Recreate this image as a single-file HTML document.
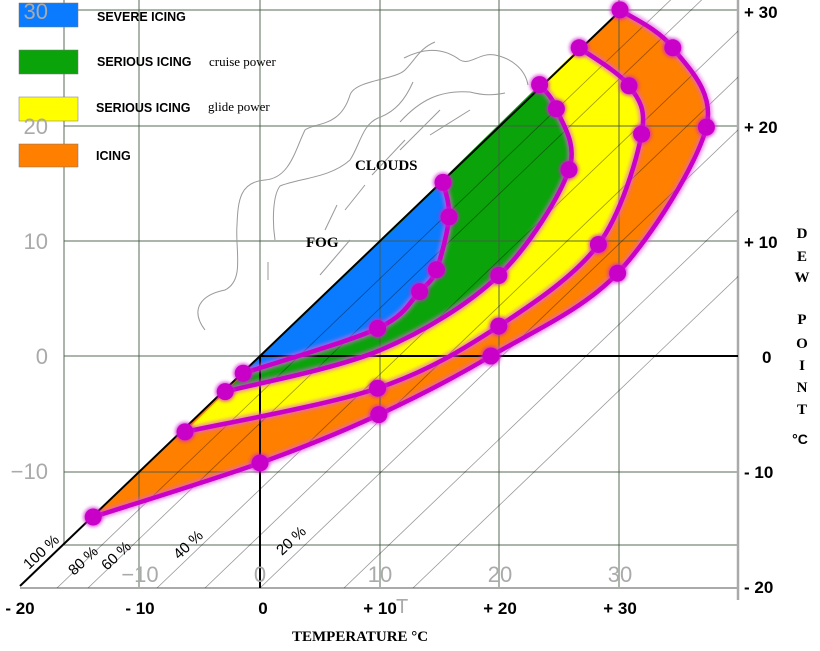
<!DOCTYPE html>
<html><head><meta charset="utf-8"><style>
html,body{margin:0;padding:0;background:#fff;}
svg{display:block;}
.sans{font-family:"Liberation Sans",sans-serif;}
.serif{font-family:"Liberation Serif",serif;}
</style></head><body>
<svg id="chart" width="820" height="651" viewBox="0 0 820 651" xmlns="http://www.w3.org/2000/svg">
<defs>
<clipPath id="plotclip"><rect x="20" y="0" width="718" height="588"/></clipPath>
<filter id="glow" x="-50%" y="-50%" width="200%" height="200%"><feGaussianBlur stdDeviation="1.5"/></filter>
</defs>
<g id="fills"></g>
<g id="grid"></g>
<g id="rh" clip-path="url(#plotclip)"></g>
<g id="clouds" fill="none" stroke="#999" stroke-width="1">
<path d="M205,330 C190,310 200,295 225,290 C245,280 235,250 237,225 C238,200 240,182 265,180 C290,178 295,150 305,130 C315,122 340,128 350,95 C355,80 395,80 405,70 C415,60 420,48 435,42"/>
<path d="M275,240 C272,220 273,195 280,186 C300,178 330,178 350,160 C360,145 362,125 378,118 C395,112 405,100 413,82"/>
<path d="M404,58 C420,50 440,45 460,60 C470,66 480,52 495,55 C510,58 525,68 528,85"/>
<path d="M400,122 C420,100 440,90 470,92 C485,96 495,95 505,93"/>
<path d="M268,262 L268,280"/>
<path d="M320,275 L350,240"/><path d="M337,205 L325,230"/><path d="M365,185 L345,210"/><path d="M405,140 L372,175"/>
<path d="M440,110 L400,150"/><path d="M470,110 L430,135"/>
</g>
<g id="bounds"></g>
<line id="satline" stroke="#000" stroke-width="2"/>
<g id="marks"></g>

<g>
<g><rect x="19" y="3" width="59" height="24" fill="#0a7bff" stroke="#777" stroke-width="0.5"/><text x="97" y="21" class="sans" font-size="12.5" font-weight="bold">SEVERE ICING</text></g>
<g><rect x="19" y="50" width="59" height="24" fill="#0aa40a" stroke="#777" stroke-width="0.5"/><text x="97" y="66" class="sans" font-size="12.5" font-weight="bold">SERIOUS ICING</text><text x="209" y="66" class="serif" font-size="13">cruise power</text></g>
<g><rect x="19" y="97" width="59" height="24" fill="#ffff00" stroke="#777" stroke-width="0.5"/><text x="96" y="112" class="sans" font-size="12.5" font-weight="bold">SERIOUS ICING</text><text x="208" y="111" class="serif" font-size="13">glide power</text></g>
<g><rect x="19" y="144" width="59" height="23" fill="#ff7f00" stroke="#777" stroke-width="0.5"/><text x="96" y="160" class="sans" font-size="12.5" font-weight="bold">ICING</text></g>
</g>

<text x="355" y="170" class="serif" font-size="15" font-weight="bold">CLOUDS</text>
<text x="306" y="247" class="serif" font-size="15" font-weight="bold">FOG</text>

<g id="rhlabels" class="sans" font-size="15" fill="#000"></g>
<g id="ticks"></g>
<text x="292" y="641" class="serif" font-size="15" font-weight="bold">TEMPERATURE  °C</text>
<g class="serif" font-size="15" font-weight="bold" text-anchor="middle">
<text x="802" y="238">D</text><text x="802" y="261">E</text><text x="802" y="282">W</text>
<text x="802" y="324">P</text><text x="802" y="348">O</text><text x="802" y="370">I</text><text x="802" y="392">N</text><text x="802" y="414">T</text>
<text x="800" y="444" class="sans" font-size="14">°C</text>
</g>
</svg>
<script>
// ---- data ----
const outerT=[-13.9,0,9.9,19.25,29.8,37.2,34.4,30];
const outerD=[-14,-9.3,-5.1,0,7.2,19.9,26.8,30.1];
const yellowT=[-6.25,9.8,19.9,28.2,31.8,30.75,26.6];
const yellowD=[-6.6,-2.8,2.6,9.7,19.3,23.5,26.8];
const greenT=[-2.9,10,19.9,25.75,24.7,23.3];
const greenD=[-3.1,0.5,7,16.2,21.5,23.6];
const greenMarked=[1,0,1,1,1,1];
const blueT=[-1.4,9.8,13.3,14.7,15.75,15.25];
const blueD=[-1.5,2.4,5.6,7.5,12.1,15.1];
const rhLabels=["100 %","80 %","60 %","40 %","20 %"];
const bottomTicks=[-20,-10,0,10,20,30];
const grayXTicks=[-10,0,10,20,30];
const leftTicks=[30,20,10,0,-10];
const rightTicks=[30,20,10,0,-10,-20];

// ---- axes ----
const xS=t=>260+12*t;
const yS=d=>356-11.5*d;
const NS="http://www.w3.org/2000/svg";
function mk(tag,attrs,parent){const e=document.createElementNS(NS,tag);for(const k in attrs)e.setAttribute(k,attrs[k]);parent.appendChild(e);return e;}

function spline(T,D){
  const p=T.map((t,i)=>[xS(t),yS(D[i])]);
  let d="M"+p[0][0]+","+p[0][1];
  for(let i=0;i<p.length-1;i++){
    const p0=p[i-1]||p[i],p1=p[i],p2=p[i+1],p3=p[i+2]||p2;
    const k=0.16;
    d+=" C"+(p1[0]+(p2[0]-p0[0])*k)+","+(p1[1]+(p2[1]-p0[1])*k)+" "+(p2[0]-(p3[0]-p1[0])*k)+","+(p2[1]-(p3[1]-p1[1])*k)+" "+p2[0]+","+p2[1];
  }
  return d;
}
const fills=document.getElementById('fills');
const bounds=document.getElementById('bounds');
const marks=document.getElementById('marks');
const regions=[[outerT,outerD,"#ff7f00","orange"],[yellowT,yellowD,"#ffff00","yellow"],[greenT,greenD,"#0aa40a","green"],[blueT,blueD,"#0a7bff","blue"]];
regions.forEach(r=>{
  const f=mk('path',{d:spline(r[0],r[1])+" Z",fill:r[2]},fills);
  
  
});
regions.forEach(r=>{
  const d=spline(r[0],r[1]);
  const g=mk('path',{d:d,fill:"none",stroke:"#e060e0","stroke-width":9,opacity:0.6,filter:"url(#glow)"},bounds);
  
  
  const l=mk('path',{d:d,fill:"none",stroke:"#c800c8","stroke-width":4.5},bounds);
  
  
  r[0].forEach((t,i)=>{
    if(r[3]==="green" && !greenMarked[i]) return;
    const c=mk('circle',{cx:xS(t),cy:yS(r[1][i]),r:10,fill:"#d020d0",opacity:0.7,filter:"url(#glow)"},marks);
    
    
    const c2=mk('circle',{cx:xS(t),cy:yS(r[1][i]),r:8.5,fill:"#c800c8"},marks);
    
    
  });
});

// grid
const grid=document.getElementById('grid');
[64,139,260,380,499,619].forEach(x=>{
  const l=mk('line',{x1:x,y1:0,x2:x,y2:x===64?545:588,stroke:"rgba(70,90,70,0.45)","stroke-width":2},grid);
  
  
});
[10,126,241,356,472,545].forEach(y=>{
  const l=mk('line',{x1:64,y1:y,x2:738,y2:y,stroke:"rgba(70,90,70,0.45)","stroke-width":2},grid);
  
  
});
let ln=mk('line',{x1:20,y1:588,x2:738,y2:588,stroke:"#aaa","stroke-width":2},grid);

ln=mk('line',{x1:738,y1:0,x2:738,y2:600,stroke:"#aaa","stroke-width":2.5},grid);

ln=mk('line',{x1:260,y1:356,x2:738,y2:356,stroke:"#000","stroke-width":2},grid);

ln=mk('line',{x1:260,y1:356,x2:260,y2:588,stroke:"#000","stroke-width":2},grid);


// saturation & RH lines
const sat=document.getElementById('satline');
sat.setAttribute('x1',xS(-20));sat.setAttribute('y1',yS(-20));sat.setAttribute('x2',xS(30));sat.setAttribute('y2',yS(30));
const rh=document.getElementById('rh');
const slope=11.5/12;
[57,88,157,205,260,344,413].forEach(x0=>{
  const l=mk('line',{x1:x0,y1:588,x2:x0+620,y2:588-620*slope,stroke:"rgba(0,0,0,0.4)","stroke-width":0.8},rh);
  
  
});
const rhl=document.getElementById('rhlabels');
[[29,570],[74,576],[107,571],[179,560],[282,556]].forEach((p,i)=>{
  const t=mk('text',{x:p[0],y:p[1],transform:"rotate(-43 "+p[0]+" "+p[1]+")"},rhl);
  t.textContent=rhLabels[i];
  
  
});

// ticks
const ticks=document.getElementById('ticks');
bottomTicks.forEach(v=>{
  const s=v<0?"- "+(-v):(v>0?"+ "+v:"0");
  const t=mk('text',{x:xS(v)+(v===0?3:0),y:614,"text-anchor":"middle","font-size":17,"font-weight":"bold",class:"sans"},ticks);
  t.textContent=s;
  
  
});
grayXTicks.forEach(v=>{
  const t=mk('text',{x:xS(v),y:582,"text-anchor":"middle","font-size":22,fill:"#aaa",class:"sans"},ticks);
  t.textContent=v<0?"−"+(-v):v;
  
  
});
leftTicks.forEach(v=>{
  const t=mk('text',{x:48,y:yS(v)+8,"text-anchor":"end","font-size":22,fill:"#aaa",class:"sans"},ticks);
  t.textContent=v<0?"−"+(-v):v;
  
  
});
rightTicks.forEach(v=>{
  const s=v<0?"- "+(-v):(v>0?"+ "+v:"0");
  const t=mk('text',{x:v===0?762:744,y:yS(v)+7,"font-size":17,"font-weight":"bold",class:"sans"},ticks);
  t.textContent=s;
  
  
});
const tt=mk('text',{x:396,y:613,"font-size":20,fill:"#aaa",class:"sans"},ticks);
tt.textContent="T";


</script>
</body></html>
